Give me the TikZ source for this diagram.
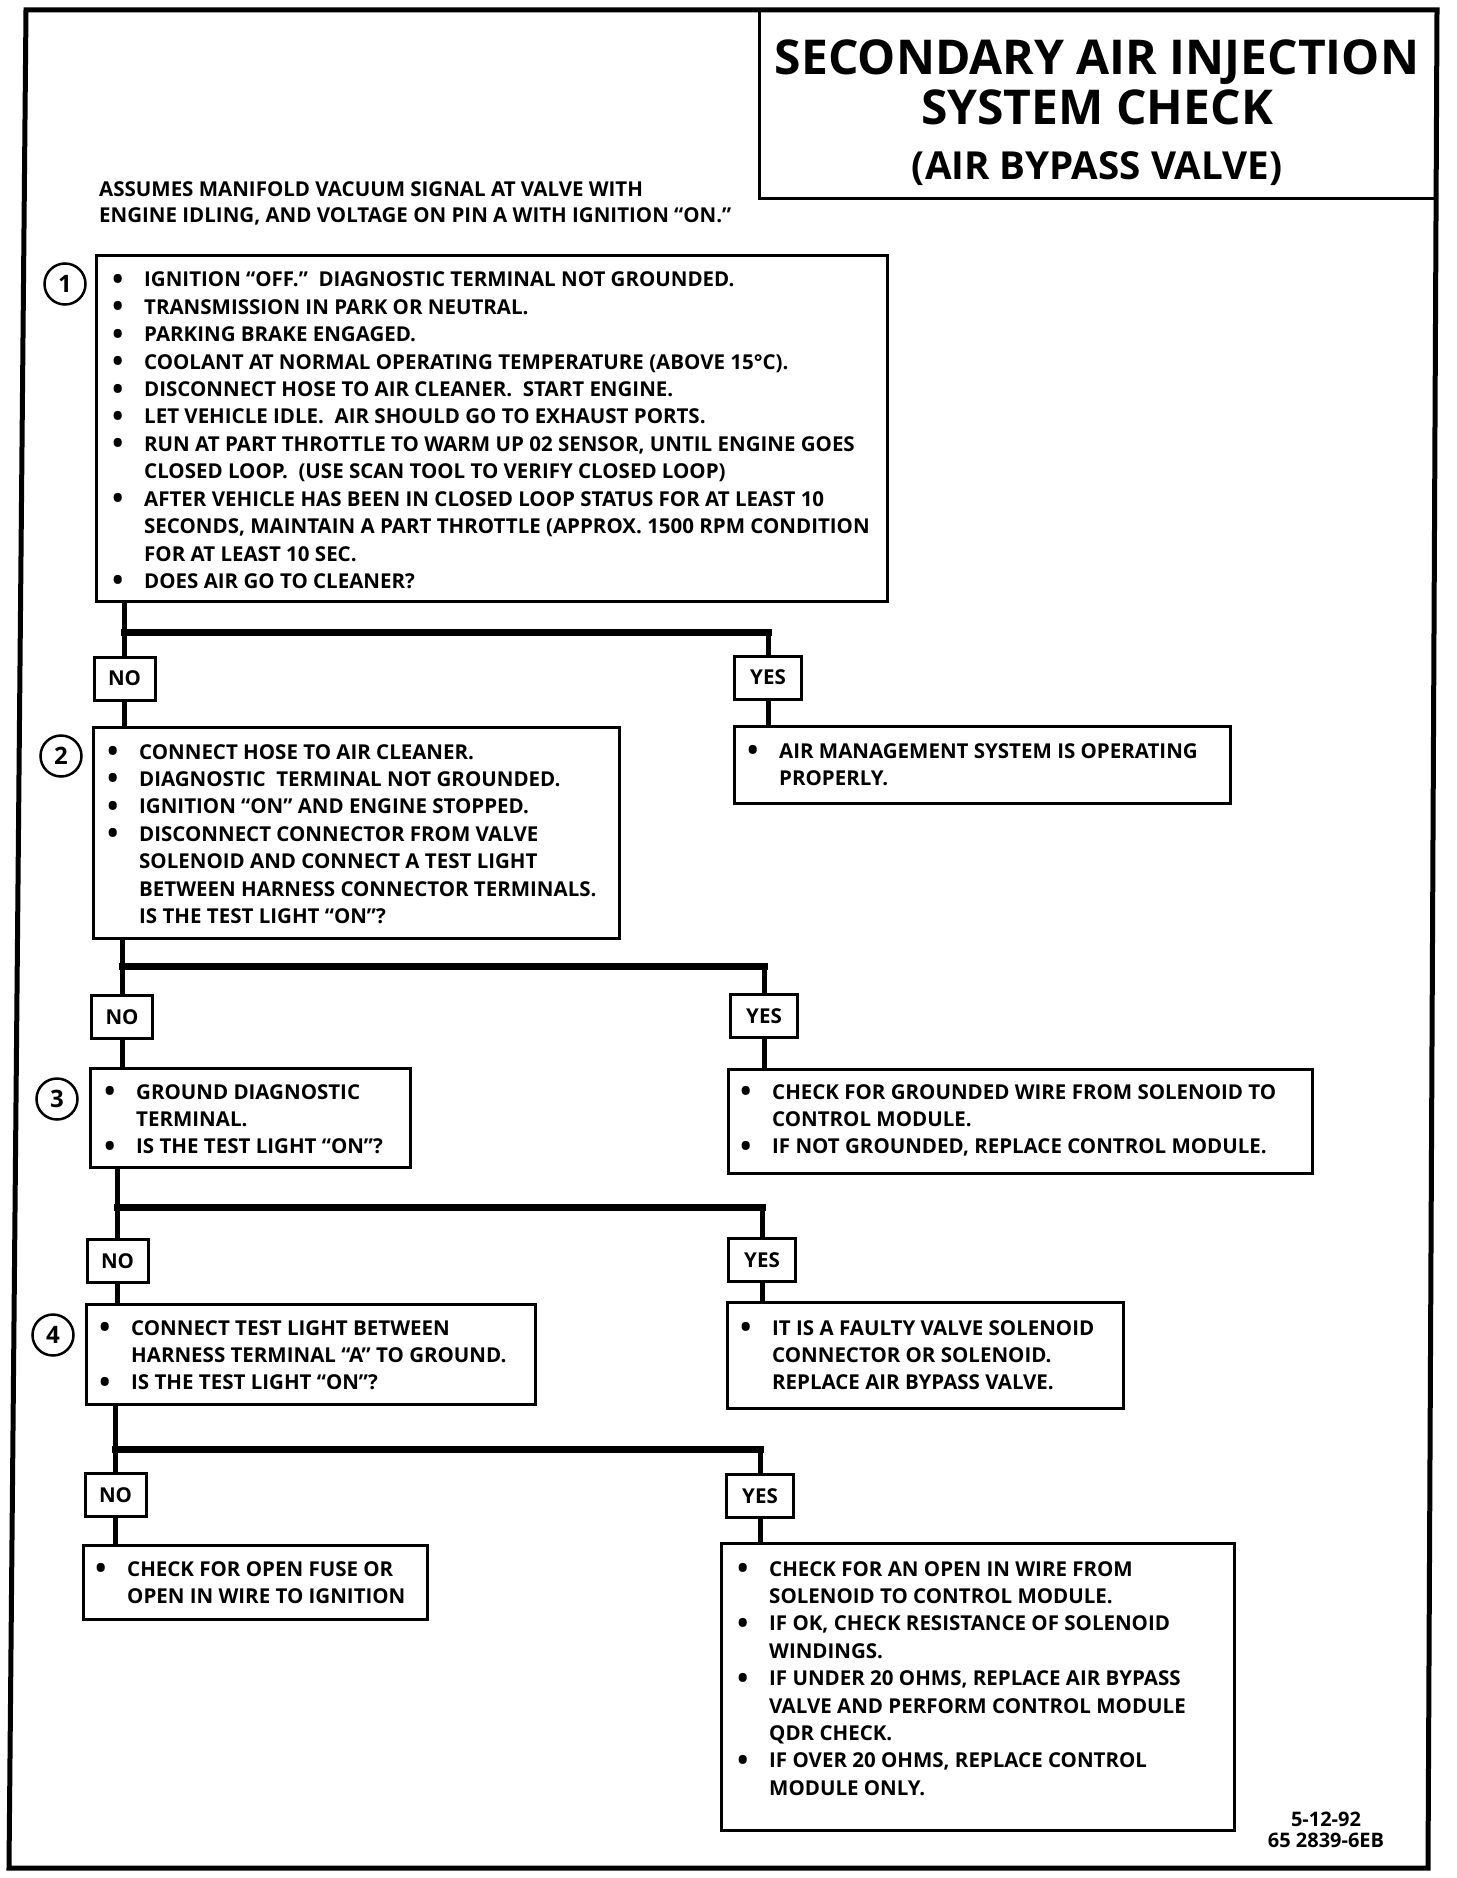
\documentclass[tikz,border=0pt]{standalone}
\usepackage{fontspec}
\setmainfont{Open Sans}
\usetikzlibrary{positioning, fit}
\newcommand{\bodysize}{\fontsize{20.5pt}{27.4pt}\selectfont\bfseries}
\newcommand{\itm}{\llap{\raisebox{-2.5pt}{\fontsize{29pt}{29pt}\selectfont\textbullet}\hspace{21pt}}}
\newcommand{\lines}[1]{\begin{tabular}[t]{@{}l@{}}#1\end{tabular}}

\begin{document}
\begin{tikzpicture}[x=1pt, y=-1pt,
	boxline/.style={draw, line width=3pt},
	card/.style={boxline, inner sep=0pt},
	note/.style={anchor=base west, inner sep=0pt, font=\bodysize},
	choice/.style={boxline, inner sep=0pt, minimum width=61pt, minimum height=43pt, font=\bodysize},
	num/.style={draw, circle, line width=2.5pt, minimum size=41pt, inner sep=0pt, font=\fontsize{24pt}{24pt}\selectfont\bfseries},
	wire/.style={-, line width=5pt},
	bar/.style={-, line width=7pt, line cap=rect}]
	\fill[white] (0,0) rectangle (1456,1878);
	\useasboundingbox (0,0) rectangle (1456,1878);
	\draw[line width=5pt] (26,10) -- (1437,10) -- (1428,1868) -- (9,1868) -- cycle;

	\node[fit={(760,10) (1436,198)}, inner sep=0pt] (titlebox) {};
	\draw[boxline] (titlebox.north west) -- (titlebox.south west) -- (titlebox.south east);
	\node[anchor=base, inner sep=0pt, font=\fontsize{48pt}{48pt}\selectfont\bfseries] (title) at (1097,75) {\begin{tabular}[t]{@{}c@{}}SECONDARY AIR INJECTION\\SYSTEM CHECK\end{tabular}};
	\node[anchor=base, inner sep=0pt, font=\fontsize{38.6pt}{38.6pt}\selectfont\bfseries] (subtitle) at (1097,180) {(AIR BYPASS VALVE)};
	\node[note, font=\fontsize{20.5pt}{26pt}\selectfont\bfseries] (assume) at (99,197) {\lines{ASSUMES MANIFOLD VACUUM SIGNAL AT VALVE WITH\\ENGINE IDLING, AND VOLTAGE ON PIN A WITH IGNITION “ON.”}};

	\node[card, fit={(96,256) (887,601)}] (q1) {};
	\node[note] (q1t) at (144,287) {\lines{%
		\itm IGNITION “OFF.”\ \ DIAGNOSTIC TERMINAL NOT GROUNDED.\\
		\itm TRANSMISSION IN PARK OR NEUTRAL.\\
		\itm PARKING BRAKE ENGAGED.\\
		\itm COOLANT AT NORMAL OPERATING TEMPERATURE (ABOVE 15°C).\\
		\itm DISCONNECT HOSE TO AIR CLEANER.\ \ START ENGINE.\\
		\itm LET VEHICLE IDLE.\ \ AIR SHOULD GO TO EXHAUST PORTS.\\
		\itm RUN AT PART THROTTLE TO WARM UP 02 SENSOR, UNTIL ENGINE GOES\\
		CLOSED LOOP.\ \ (USE SCAN TOOL TO VERIFY CLOSED LOOP)\\
		\itm AFTER VEHICLE HAS BEEN IN CLOSED LOOP STATUS FOR AT LEAST 10\\
		SECONDS, MAINTAIN A PART THROTTLE (APPROX. 1500 RPM CONDITION\\
		FOR AT LEAST 10 SEC.\\
		\itm DOES AIR GO TO CLEANER?}};
	\node[num] (s1) at (65,284) {1};

	\node[choice] (no1) at (124.5,678.5) {NO};
	\node[choice, minimum width=67pt] (yes1) at (768,677.5) {YES};
	\coordinate (j1) at (0,632);

	\node[card, fit={(93,727) (619,938)}] (q2) {};
	\node[note] (q2t) at (139,759) {\lines{%
		\itm CONNECT HOSE TO AIR CLEANER.\\
		\itm DIAGNOSTIC\ \ TERMINAL NOT GROUNDED.\\
		\itm IGNITION “ON” AND ENGINE STOPPED.\\
		\itm DISCONNECT CONNECTOR FROM VALVE\\
		SOLENOID AND CONNECT A TEST LIGHT\\
		BETWEEN HARNESS CONNECTOR TERMINALS.\\
		IS THE TEST LIGHT “ON”?}};
	\node[num] (s2) at (61,756) {2};
	\node[card, fit={(734,726) (1230,803)}] (a1) {};
	\node[note] (a1t) at (779,758) {\lines{%
		\itm AIR MANAGEMENT SYSTEM IS OPERATING\\
		PROPERLY.}};

	\node[choice] (no2) at (122,1017) {NO};
	\node[choice, minimum width=67pt] (yes2) at (764,1016) {YES};
	\coordinate (j2) at (0,966);

	\node[card, fit={(90,1068) (410,1167)}] (q3) {};
	\node[note] (q3t) at (136,1099) {\lines{%
		\itm GROUND DIAGNOSTIC\\
		TERMINAL.\\
		\itm IS THE TEST LIGHT “ON”?}};
	\node[num] (s3) at (57,1099) {3};
	\node[card, fit={(728,1069) (1312,1173)}] (a2) {};
	\node[note] (a2t) at (772,1099) {\lines{%
		\itm CHECK FOR GROUNDED WIRE FROM SOLENOID TO\\
		CONTROL MODULE.\\
		\itm IF NOT GROUNDED, REPLACE CONTROL MODULE.}};

	\node[choice] (no3) at (117.5,1261) {NO};
	\node[choice, minimum width=67pt] (yes3) at (762,1260) {YES};
	\coordinate (j3) at (0,1207);

	\node[card, fit={(86,1304) (535,1404)}] (q4) {};
	\node[note] (q4t) at (131,1335) {\lines{%
		\itm CONNECT TEST LIGHT BETWEEN\\
		HARNESS TERMINAL “A” TO GROUND.\\
		\itm IS THE TEST LIGHT “ON”?}};
	\node[num] (s4) at (53,1335) {4};
	\node[card, fit={(727,1302) (1123,1408)}] (a3) {};
	\node[note] (a3t) at (772,1335) {\lines{%
		\itm IT IS A FAULTY VALVE SOLENOID\\
		CONNECTOR OR SOLENOID.\\
		REPLACE AIR BYPASS VALVE.}};

	\node[choice] (no4) at (115.5,1495) {NO};
	\node[choice, minimum width=67pt] (yes4) at (760,1496) {YES};
	\coordinate (j4) at (0,1449);

	\node[card, fit={(83,1545) (427,1619)}] (q5) {};
	\node[note] (q5t) at (127,1576) {\lines{%
		\itm CHECK FOR OPEN FUSE OR\\
		OPEN IN WIRE TO IGNITION}};
	\node[card, fit={(721,1543) (1234,1830)}] (a4) {};
	\node[note] (a4t) at (769,1576) {\lines{%
		\itm CHECK FOR AN OPEN IN WIRE FROM\\
		SOLENOID TO CONTROL MODULE.\\
		\itm IF OK, CHECK RESISTANCE OF SOLENOID\\
		WINDINGS.\\
		\itm IF UNDER 20 OHMS, REPLACE AIR BYPASS\\
		VALVE AND PERFORM CONTROL MODULE\\
		QDR CHECK.\\
		\itm IF OVER 20 OHMS, REPLACE CONTROL\\
		MODULE ONLY.}};

	\node[anchor=base, inner sep=0pt, font=\fontsize{20pt}{21pt}\selectfont\bfseries] (stamp) at (1326,1826) {\begin{tabular}[t]{@{}c@{}}5-12-92\\65 2839-6EB\end{tabular}};

	\draw
		(q1.south -| no1) edge[wire] (no1.north)
		(no1 |- j1) edge[bar] (yes1 |- j1)
		(yes1 |- j1) edge[wire] (yes1.north)
		(no1.south) edge[wire] (no1.south |- q2.north)
		(yes1.south) edge[wire] (yes1.south |- a1.north)
		(q2.south -| no2) edge[wire] (no2.north)
		(no2 |- j2) edge[bar] (yes2 |- j2)
		(yes2 |- j2) edge[wire] (yes2.north)
		(no2.south) edge[wire] (no2.south |- q3.north)
		(yes2.south) edge[wire] (yes2.south |- a2.north)
		(q3.south -| no3) edge[wire] (no3.north)
		(no3 |- j3) edge[bar] (yes3 |- j3)
		(yes3 |- j3) edge[wire] (yes3.north)
		(no3.south) edge[wire] (no3.south |- q4.north)
		(yes3.south) edge[wire] (yes3.south |- a3.north)
		(q4.south -| no4) edge[wire] (no4.north)
		(no4 |- j4) edge[bar] (yes4 |- j4)
		(yes4 |- j4) edge[wire] (yes4.north)
		(no4.south) edge[wire] (no4.south |- q5.north)
		(yes4.south) edge[wire] (yes4.south |- a4.north);
\end{tikzpicture}
\end{document}
